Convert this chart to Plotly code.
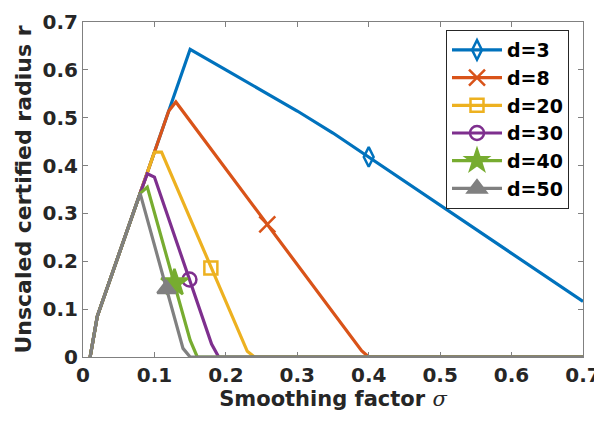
import plotly.graph_objects as go

# ---- data ----
sigma_d3 = [0.01, 0.02, 0.08, 0.09, 0.10, 0.12, 0.14, 0.15, 0.20, 0.25, 0.30, 0.35, 0.40, 0.45, 0.50, 0.55, 0.60, 0.65, 0.70]
r_d3 = [0.0, 0.085, 0.342, 0.385, 0.428, 0.514, 0.600, 0.643, 0.600, 0.557, 0.514, 0.468, 0.418, 0.368, 0.317, 0.267, 0.216, 0.166, 0.116]

sigma_d8 = [0.01, 0.02, 0.08, 0.09, 0.10, 0.12, 0.13, 0.39, 0.40, 0.70]
r_d8 = [0.0, 0.085, 0.342, 0.385, 0.428, 0.514, 0.533, 0.013, 0.0, 0.0]

sigma_d20 = [0.01, 0.02, 0.08, 0.09, 0.10, 0.11, 0.23, 0.24, 0.70]
r_d20 = [0.0, 0.085, 0.342, 0.385, 0.428, 0.428, 0.012, 0.0, 0.0]

sigma_d30 = [0.01, 0.02, 0.08, 0.09, 0.10, 0.18, 0.19, 0.70]
r_d30 = [0.0, 0.085, 0.342, 0.383, 0.376, 0.027, 0.0, 0.0]

sigma_d40 = [0.01, 0.02, 0.08, 0.09, 0.15, 0.16, 0.70]
r_d40 = [0.0, 0.085, 0.342, 0.355, 0.035, 0.0, 0.0]

sigma_d50 = [0.01, 0.02, 0.08, 0.14, 0.15, 0.70]
r_d50 = [0.0, 0.085, 0.342, 0.018, 0.0, 0.0]

# one marker per curve
marker_sigma = [0.40, 0.258, 0.179, 0.149, 0.128, 0.117]
marker_r = [0.418, 0.277, 0.186, 0.162, 0.155, 0.142]

labels = ["d=3", "d=8", "d=20", "d=30", "d=40", "d=50"]
xs = [sigma_d3, sigma_d8, sigma_d20, sigma_d30, sigma_d40, sigma_d50]
ys = [r_d3, r_d8, r_d20, r_d30, r_d40, r_d50]

x_ticks = [0, 0.1, 0.2, 0.3, 0.4, 0.5, 0.6, 0.7]
y_ticks = [0, 0.1, 0.2, 0.3, 0.4, 0.5, 0.6, 0.7]
tick_text = ["0", "0.1", "0.2", "0.3", "0.4", "0.5", "0.6", "0.7"]

# ---- style ----
colors = ["#0072BD", "#D95319", "#EDB120", "#7E2F8E", "#77AC30", "#808080"]
symbols = ["diamond-tall-open", "x-thin-open", "square-open", "circle-open", "star", "triangle-up"]
msizes = [14, 16, 13, 14, 20, 16]
FONT = "DejaVu Sans"
TXT = "#262626"

fig = go.Figure()
for i in range(6):
    fig.add_trace(go.Scatter(
        x=xs[i], y=ys[i], mode="lines",
        line=dict(color=colors[i], width=3.2),
        showlegend=False, hoverinfo="skip",
    ))
    fig.add_trace(go.Scatter(
        x=[marker_sigma[i]], y=[marker_r[i]], mode="markers",
        marker=dict(symbol=symbols[i], size=msizes[i], color=colors[i],
                    line=dict(color=colors[i], width=2.5)),
        showlegend=False, hoverinfo="skip",
    ))
    # legend entry
    fig.add_trace(go.Scatter(
        x=[None], y=[None], mode="lines+markers", name=labels[i],
        line=dict(color=colors[i], width=3.2),
        marker=dict(symbol=symbols[i], size=msizes[i], color=colors[i],
                    line=dict(color=colors[i], width=2.5)),
    ))

axis_common = dict(
    showline=True, linecolor="#808080", linewidth=1, mirror="ticks",
    ticks="inside", ticklen=5, tickcolor="#808080",
    showgrid=False, zeroline=False, automargin=False,
    tickfont=dict(family=FONT, size=20, color=TXT, weight="bold"),
)

# the page body adds an 8px offset; margins compensate for it
fig.update_layout(
    width=602, height=422,
    margin=dict(l=75, r=27, t=14, b=73),
    paper_bgcolor="white", plot_bgcolor="white",
    font=dict(family=FONT, color=TXT),
    xaxis=dict(range=[0, 0.7], tickvals=x_ticks, ticktext=tick_text,
               title=dict(text="Smoothing factor <span style='font-family:DejaVu Serif;font-weight:normal;font-style:italic'>σ</span>",
                          font=dict(family=FONT, size=21, color=TXT, weight="bold"), standoff=4),
               **axis_common),
    yaxis=dict(range=[0, 0.7], tickvals=y_ticks, ticktext=tick_text,
               title=dict(text="Unscaled certified radius r",
                          font=dict(family=FONT, size=22, color=TXT, weight="bold"), standoff=4),
               **axis_common),
    legend=dict(x=0.972, y=0.976, xanchor="right", yanchor="top",
                bgcolor="white", bordercolor="#262626", borderwidth=1,
                font=dict(family=FONT, size=19, color="black", weight="bold"),
                tracegroupgap=0, itemwidth=50),
)

fig.write_html("out.html")
